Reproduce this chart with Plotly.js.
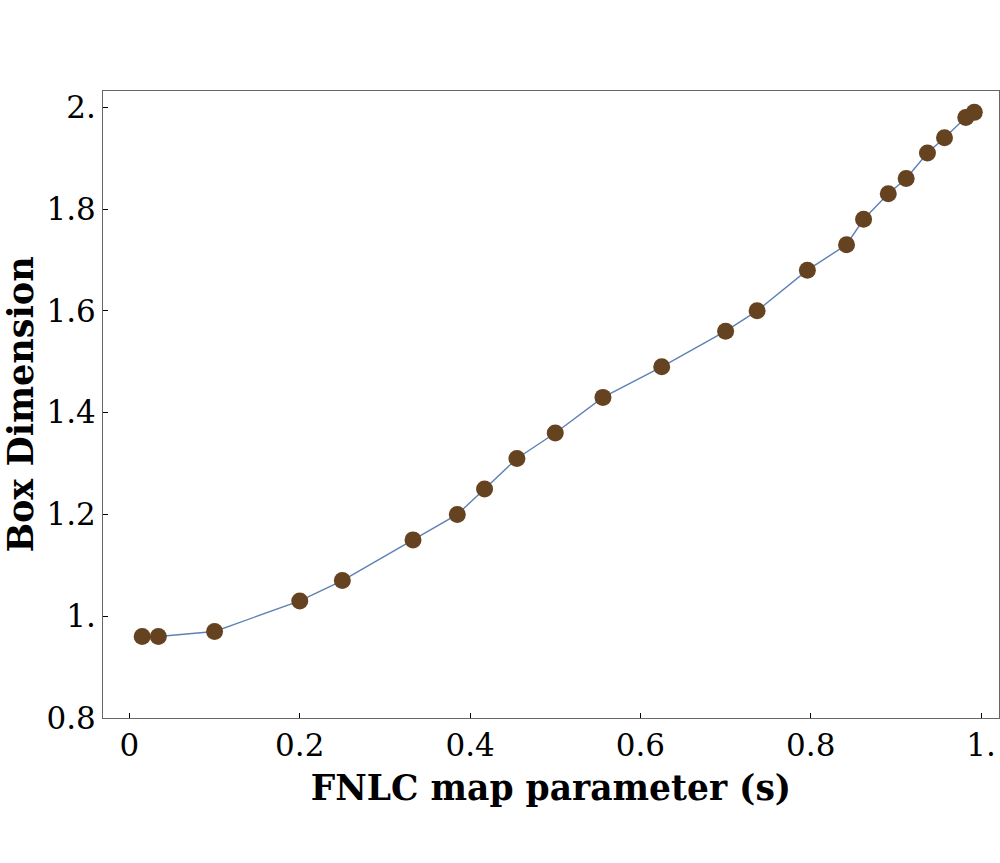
<!DOCTYPE html>
<html>
<head>
<meta charset="utf-8">
<script src="https://cdn.plot.ly/plotly-3.0.1.min.js"></script>
<style>
  html, body { margin: 0; padding: 0; background: #fff; }
  #myGraph { width: 1000px; height: 863px; }
</style>
</head>
<body>
<div id="myGraph"></div>
<script>
// map parameter s and the measured box dimension
var sValues = [0.015, 0.034, 0.1, 0.2, 0.25, 0.333, 0.385, 0.417, 0.455, 0.5, 0.556, 0.625,
               0.7, 0.737, 0.796, 0.842, 0.862, 0.891, 0.912, 0.937, 0.957, 0.982, 0.992];
var boxDim = [0.96, 0.96, 0.97, 1.03, 1.07, 1.15, 1.20, 1.25, 1.31, 1.36, 1.43, 1.49,
              1.56, 1.60, 1.68, 1.73, 1.78, 1.83, 1.86, 1.91, 1.94, 1.98, 1.99];

var xTickVals = [0, 0.2, 0.4, 0.6, 0.8, 1];
var xTickText = ['0', '0.2', '0.4', '0.6', '0.8', '1.'];
var yTickVals = [0.8, 1, 1.2, 1.4, 1.6, 1.8, 2];
var yTickText = ['0.8', '1.', '1.2', '1.4', '1.6', '1.8', '2.'];

var serif = 'DejaVu Serif, serif';

var curve = {
    x: sValues,
    y: boxDim,
    type: 'scatter',
    mode: 'lines+markers',
    line: { color: '#5e81b5', width: 1.4 },
    marker: { color: '#654321', size: 17 },
    hoverinfo: 'x+y'
};

var layout = {
    width: 1000,
    height: 863,
    margin: { l: 103, r: 1, t: 91, b: 145 },
    paper_bgcolor: '#ffffff',
    plot_bgcolor: '#ffffff',
    showlegend: false,
    font: { family: serif, color: '#000' },
    xaxis: {
        range: [-0.031, 1.021],
        tickvals: xTickVals,
        ticktext: xTickText,
        ticks: 'inside',
        ticklen: 5,
        tickcolor: '#000',
        tickfont: { family: serif, size: 31 },
        showgrid: false,
        zeroline: false,
        showline: true,
        linecolor: '#666',
        linewidth: 1,
        mirror: true,
        title: { text: '<b>FNLC map parameter (s)</b>', font: { family: serif, size: 34.5 }, standoff: 13 }
    },
    yaxis: {
        range: [0.8, 2.032],
        tickvals: yTickVals,
        ticktext: yTickText,
        ticks: 'inside',
        ticklen: 5,
        tickcolor: '#000',
        tickfont: { family: serif, size: 31 },
        showgrid: false,
        zeroline: false,
        showline: true,
        linecolor: '#666',
        linewidth: 1,
        mirror: true,
        title: { text: '<b>Box Dimension</b>', font: { family: serif, size: 35 }, standoff: 8 }
    }
};

Plotly.newPlot('myGraph', [curve], layout, { displayModeBar: false, responsive: false });
</script>
</body>
</html>
